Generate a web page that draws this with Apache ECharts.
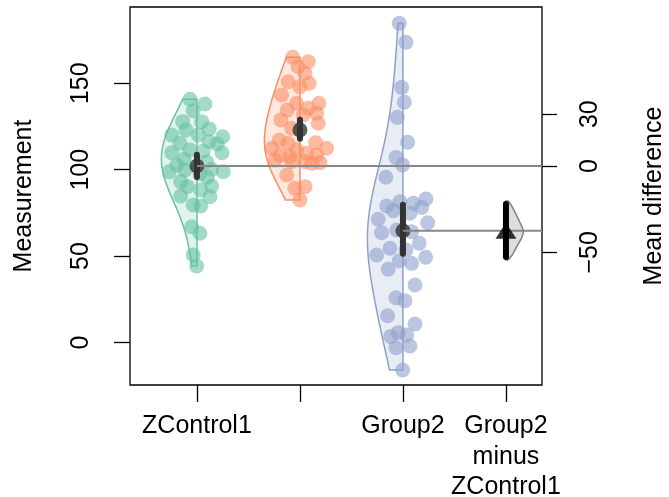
<!DOCTYPE html>
<html><head><meta charset="utf-8">
<script src="https://cdn.jsdelivr.net/npm/echarts@6/dist/echarts.min.js"></script>
<style>html,body{margin:0;padding:0;background:#fff}#c{width:669px;height:497px}</style>
</head><body><div id="c"></div>
<script>
// ---------------- data ----------------
const categories = ["ZControl1", "", "Group2", "Group2\nminus\nZControl1"];
const controlValues = [140.7,138.0,134.1,127.8,127.8,123.6,123.0,120.1,120.1,119.1,115.3,116.2,114.9,111.4,109.8,110.8,109.8,106.2,104.6,102.7,98.8,99.8,100.2,98.8,97.5,95.6,93.1,90.2,90.6,88.3,84.8,84.4,79.6,79.0,67.0,63.2,50.6,44.3];
const controlJitter = [-0.068,0.078,-0.036,-0.139,0.046,0.119,-0.107,-0.246,0.013,0.250,-0.165,0.119,0.197,-0.068,-0.246,0.061,0.243,-0.126,0.094,-0.197,-0.269,-0.117,0.143,0.255,0.029,0.100,-0.158,-0.094,0.143,0.036,-0.158,0.126,-0.036,0.036,-0.051,0.029,-0.036,-0.003];
const group1Values = [165.0,162.5,159.6,155.8,150.9,150.0,148.0,143.2,138.4,138.4,134.5,135.5,132.6,131.7,128.8,126.9,124.0,117.2,115.3,115.6,112.4,112.4,111.4,109.5,108.5,107.5,108.5,105.6,104.6,104.6,104.1,103.7,96.9,89.2,90.2,82.5];
const group1Jitter = [-0.071,0.081,-0.017,0.049,-0.114,0.090,0,-0.178,-0.032,0.184,-0.123,0.081,0.162,0.032,-0.184,0.178,-0.081,-0.201,-0.114,0.152,-0.275,0.259,-0.032,0.065,-0.194,-0.097,0.162,-0.243,-0.081,0.049,0.194,0.114,-0.129,-0.049,0.049,0];
const group2Values = [184.7,173.7,147.5,139.0,130.3,115.9,107.1,102.7,95.6,79.0,81.5,80.6,83.0,78.1,76.3,74.8,71.3,69.3,63.5,65.1,64.1,57.4,54.5,50.6,53.5,49.3,47.3,45.8,42.4,33.3,25.9,24.2,15.5,10.7,3.4,5.7,4.3,-3.0,-2.0,-15.9];
const group2Jitter = [-0.036,0.029,-0.013,0.013,-0.055,0.046,-0.068,-0.003,-0.165,-0.158,-0.029,0.100,0.223,0.182,-0.094,0.068,-0.240,0.240,-0.207,-0.061,0.084,0.158,-0.126,-0.255,0.029,0.220,-0.036,0.084,-0.143,0.117,-0.068,0.019,-0.149,0.117,-0.119,-0.046,0.036,-0.068,0.068,-0.003];
const groupCI = [[95.7,108.6],[117.9,128.9],[51.4,79.7]];
const diffCI = [-52.7,-22.0];
const diffDensityAt = [-20.2,-23.1,-27.9,-32.7,-37.5,-41.4,-46.2,-51.0,-54.4];
const diffDensity = [0.13,0.33,0.58,0.81,1,0.91,0.65,0.39,0.13];
const leftTicks = [0,50,100,150];
const rightTicks = [-50,0,30];

// ---------------- layout / style ----------------
const COLORS = ['#66C2A5','#FC8D62','#8DA0CB'];
const X_MIN = 0.35, X_MAX = 4.35;
const Y_MIN = -24.6, Y_MAX = 194.15;
const HALF = 0.345;       // max half-width of violins (x units)
const DIFF_HALF = 0.168;  // max width of difference density
const BW_ADJUST = 1.9;    // smoothing of the violin density
const FONT = 'Liberation Sans, Arial, Helvetica, sans-serif';

const mean = a => a.reduce((s,v)=>s+v,0)/a.length;
const groups = [controlValues, group1Values, group2Values];
const jitters = [controlJitter, group1Jitter, group2Jitter];
const means = groups.map(mean);
const ctrlMean = means[0];
const diffMean = means[2] - means[0];

function quantile(sorted, p){
  const h=(sorted.length-1)*p, lo=Math.floor(h), hi=Math.ceil(h);
  return sorted[lo]+(sorted[hi]-sorted[lo])*(h-lo);
}
function densityCurve(values){
  const s=values.slice().sort((a,b)=>a-b), n=s.length, m=mean(s);
  const sd=Math.sqrt(s.reduce((t,v)=>t+(v-m)*(v-m),0)/(n-1));
  const iqr=quantile(s,0.75)-quantile(s,0.25);
  const bw=BW_ADJUST*0.9*Math.min(sd, iqr/1.34)*Math.pow(n,-0.2);
  const lo=s[0], hi=s[n-1], N=120, ys=[], ds=[];
  for(let i=0;i<=N;i++){
    const y=lo+(hi-lo)*i/N; let d=0;
    for(const v of s){const z=(y-v)/bw; d+=Math.exp(-0.5*z*z);}
    ys.push(y); ds.push(d);
  }
  const mx=Math.max(...ds);
  return {ys, ds: ds.map(d=>d/mx), lo, hi};
}
function hexA(hex,a){
  const r=parseInt(hex.slice(1,3),16),g=parseInt(hex.slice(3,5),16),b=parseInt(hex.slice(5,7),16);
  return `rgba(${r},${g},${b},${a})`;
}

const series = [];
// violins
groups.forEach((vals,gi)=>{
  const c=densityCurve(vals), xc=gi+1;
  series.push({
    type:'custom', silent:true, z:1, data:[0],
    renderItem:(p,api)=>{
      const pts=c.ys.map((y,i)=>api.coord([xc-HALF*c.ds[i], y]));
      pts.push(api.coord([xc,c.hi])); pts.push(api.coord([xc,c.lo]));
      return {type:'polygon', shape:{points:pts}, style:{fill:hexA(COLORS[gi],0.2), stroke:COLORS[gi], lineWidth:1.5}};
    }
  });
});
// raw points
groups.forEach((vals,gi)=>{
  series.push({
    type:'scatter', z:2, symbol:'circle', symbolSize:15, silent:true,
    itemStyle:{color:COLORS[gi], opacity:0.6},
    data: vals.map((v,i)=>[gi+1+jitters[gi][i], v])
  });
});
// CI bars of group means
series.push({
  type:'custom', z:3, silent:true, data: groupCI.map((ci,i)=>[i+1, ci[0], ci[1]]),
  renderItem:(p,api)=>{
    const a=api.coord([api.value(0),api.value(1)]), b=api.coord([api.value(0),api.value(2)]);
    return {type:'line', shape:{x1:a[0],y1:a[1],x2:b[0],y2:b[1]}, style:{stroke:'#333333', lineWidth:6, lineCap:'round'}};
  }
});
series.push({
  type:'scatter', z:4, symbol:'circle', symbolSize:15, silent:true,
  itemStyle:{color:'#333333'},
  data: means.map((m,i)=>[i+1,m])
});
// reference lines
series.push({type:'line', z:5, silent:true, symbol:'none', lineStyle:{color:'#878787', width:2},
  data:[[1,ctrlMean],[X_MAX,ctrlMean]]});
series.push({type:'line', z:5, silent:true, symbol:'none', lineStyle:{color:'#878787', width:2},
  data:[[3,means[2]],[X_MAX,means[2]]]});
// difference density (right axis)
series.push({
  type:'custom', yAxisIndex:1, z:4, silent:true, data:[0],
  renderItem:(p,api)=>{
    const raw=diffDensityAt.map((y,i)=>api.coord([4+DIFF_HALF*diffDensity[i], y]));
    const sm=[];
    for(let i=0;i<raw.length-1;i++){
      const p0=raw[Math.max(i-1,0)], p1=raw[i], p2=raw[i+1], p3=raw[Math.min(i+2,raw.length-1)];
      for(let t=0;t<1;t+=0.1){
        const t2=t*t,t3=t2*t;
        sm.push([0,1].map(k=>0.5*((2*p1[k])+(-p0[k]+p2[k])*t+(2*p0[k]-5*p1[k]+4*p2[k]-p3[k])*t2+(-p0[k]+3*p1[k]-3*p2[k]+p3[k])*t3)));
      }
    }
    sm.push(raw[raw.length-1]);
    const top=api.coord([4,diffDensityAt[0]]), bot=api.coord([4,diffDensityAt[diffDensityAt.length-1]]);
    const pts=[top].concat(sm,[bot]);
    return {type:'polygon', shape:{points:pts}, style:{fill:'#DDDDDD', stroke:'#808080', lineWidth:1.5}};
  }
});
series.push({
  type:'custom', yAxisIndex:1, z:6, silent:true, data:[[4,diffCI[0],diffCI[1]]],
  renderItem:(p,api)=>{
    const a=api.coord([api.value(0),api.value(1)]), b=api.coord([api.value(0),api.value(2)]);
    return {type:'line', shape:{x1:a[0],y1:a[1],x2:b[0],y2:b[1]}, style:{stroke:'#000', lineWidth:6, lineCap:'round'}};
  }
});
series.push({type:'scatter', yAxisIndex:1, z:7, silent:true, symbol:'triangle', symbolSize:[21,16],
  itemStyle:{color:'#000'}, data:[[4,diffMean]]});

const txt = {color:'#000', fontSize:25, fontFamily:FONT};
const option = {
  animation:false,
  backgroundColor:'#fff',
  grid:{left:130, top:7, width:412, height:378, show:true, borderColor:'#000', borderWidth:1.3,
    backgroundColor:'transparent', containLabel:false, outerBoundsMode:'none'},
  xAxis:{type:'value', min:X_MIN, max:X_MAX, splitLine:{show:false}, axisLine:{show:false, onZero:false},
    axisTick:{show:true, customValues:[1,2,3,4], length:17, lineStyle:{color:'#000', width:1.3}},
    axisLabel:Object.assign({customValues:[1,2,3,4], margin:26, lineHeight:30.5,
      formatter:v=>categories[Math.round(v)-1]}, txt)},
  yAxis:[
    {type:'value', position:'left', min:Y_MIN, max:Y_MAX, splitLine:{show:false}, axisLine:{show:false, onZero:false},
      axisTick:{show:true, customValues:leftTicks, length:16, lineStyle:{color:'#000', width:1.3}},
      axisLabel:Object.assign({customValues:leftTicks, rotate:90, margin:36}, txt),
      name:'Measurement', nameLocation:'middle', nameRotate:90, nameGap:93, nameTextStyle:txt},
    {type:'value', position:'right', min:Y_MIN-ctrlMean, max:Y_MAX-ctrlMean, splitLine:{show:false}, axisLine:{show:false, onZero:false},
      axisTick:{show:true, customValues:rightTicks, length:15, lineStyle:{color:'#000', width:1.3}},
      axisLabel:Object.assign({customValues:rightTicks, rotate:90, margin:36,
        formatter:v=>v<0?'\u2212'+Math.abs(v):String(v)}, txt),
      name:'Mean difference', nameLocation:'middle', nameRotate:90, nameGap:100, nameTextStyle:txt}
  ],
  series
};
const chart = echarts.init(document.getElementById('c'), null, {renderer:'canvas'});
chart.setOption(option);
</script></body></html>
